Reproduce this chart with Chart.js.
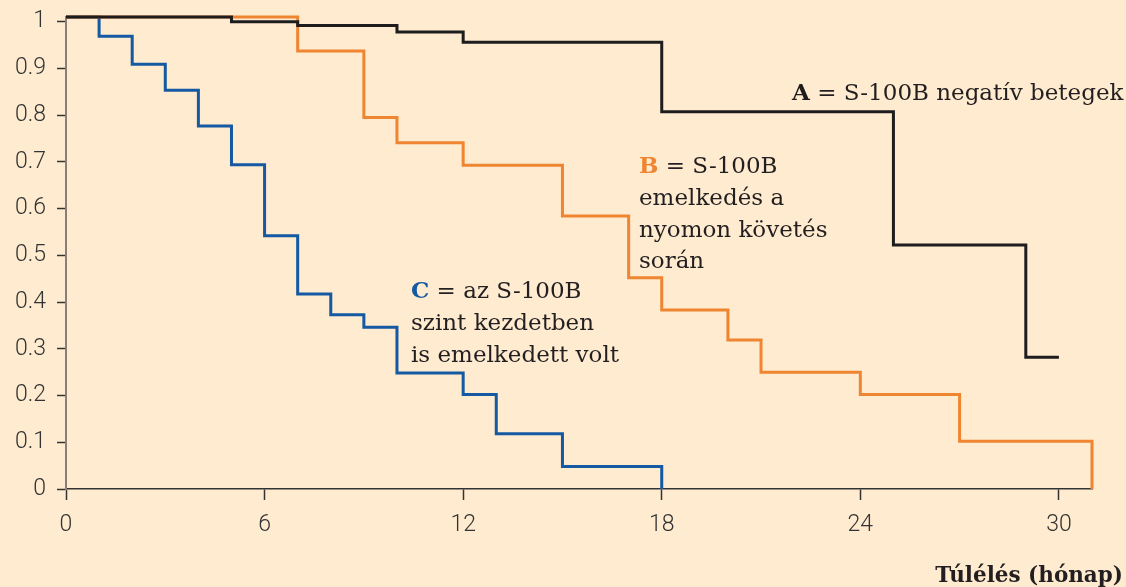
<!DOCTYPE html>
<html>
<head>
<meta charset="utf-8">
<script src="https://cdn.jsdelivr.net/npm/chart.js@4"></script>
<style>
  html, body { margin: 0; padding: 0; background: #FEEBD0; }
  #wrap { width: 1126px; height: 587px; }
</style>
</head>
<body>
<div id="wrap"><canvas id="survivalChart" width="1126" height="587"></canvas></div>
<script>
// Kaplan-Meier curves (months / survival)
const timesA = [0, 5, 7, 10, 12, 18, 25, 29, 30];
const survA = [1.01, 1.0, 0.992, 0.978, 0.956, 0.807, 0.522, 0.282, 0.282];

const timesB = [0, 7, 9, 10, 12, 15, 17, 18, 20, 21, 24, 27, 31];
const survB = [1.01, 0.937, 0.795, 0.741, 0.693, 0.584, 0.452, 0.383, 0.319, 0.25, 0.202, 0.102, 0];

const timesC = [0, 1, 2, 3, 4, 5, 6, 7, 8, 9, 10, 12, 13, 15, 18];
const survC = [1.01, 0.969, 0.909, 0.853, 0.777, 0.694, 0.542, 0.417, 0.373, 0.346, 0.248, 0.202, 0.118, 0.048, 0];

const xTicks = [0, 6, 12, 18, 24, 30];
const yTicks = [0, 0.1, 0.2, 0.3, 0.4, 0.5, 0.6, 0.7, 0.8, 0.9, 1];
const yTickLabels = ['0', '0.1', '0.2', '0.3', '0.4', '0.5', '0.6', '0.7', '0.8', '0.9', '1'];

const colorA = '#1e1c1c';
const colorB = '#EF8530';
const colorC = '#1459A2';
const textColor = '#231f20';

function toPoints(xs, ys) {
  return xs.map((x, i) => ({ x: x, y: ys[i] }));
}

// labels drawn on top of the chart
const labelsPlugin = {
  id: 'kmLabels',
  afterDraw(chart) {
    const ctx = chart.ctx;
    ctx.save();
    ctx.textBaseline = 'alphabetic';
    ctx.textAlign = 'left';

    function rich(x, y, parts) {
      parts.forEach(p => {
        ctx.font = (p.bold ? 'bold ' : '') + '23px "DejaVu Serif"';
        ctx.fillStyle = p.color || textColor;
        ctx.fillText(p.text, x, y);
        x += ctx.measureText(p.text).width;
      });
    }

    rich(792, 100, [{ text: 'A', bold: true, color: colorA }, { text: ' = S-100B negatív betegek' }]);

    rich(639, 173, [{ text: 'B', bold: true, color: colorB }, { text: ' = S-100B' }]);
    rich(639, 205, [{ text: 'emelkedés a' }]);
    rich(639, 237, [{ text: 'nyomon követés' }]);
    rich(639, 268, [{ text: 'során' }]);

    rich(411, 298, [{ text: 'C', bold: true, color: colorC }, { text: ' = az S-100B' }]);
    rich(411, 330, [{ text: 'szint kezdetben' }]);
    rich(411, 362, [{ text: 'is emelkedett volt' }]);

    // axis title
    ctx.font = 'bold 21.5px "DejaVu Serif"';
    ctx.fillStyle = textColor;
    ctx.textAlign = 'right';
    ctx.fillText('Túlélés (hónap)', 1123, 582);
    ctx.restore();
  }
};

const ctx = document.getElementById('survivalChart').getContext('2d');
const survivalChart = new Chart(ctx, {
  type: 'line',
  data: {
    datasets: [
      { label: 'A', data: toPoints(timesA, survA), borderColor: colorA },
      { label: 'B', data: toPoints(timesB, survB), borderColor: colorB },
      { label: 'C', data: toPoints(timesC, survC), borderColor: colorC }
    ]
  },
  options: {
    responsive: false,
    animation: false,
    layout: { padding: { top: 17, right: 34, left: 0, bottom: 0 } },
    elements: {
      line: { borderWidth: 3, stepped: 'before', fill: false, borderJoinStyle: 'miter', borderCapStyle: 'butt' },
      point: { radius: 0, hoverRadius: 0 }
    },
    datasets: { line: { clip: false } },
    scales: {
      x: {
        type: 'linear',
        min: 0,
        max: 31,
        afterBuildTicks: scale => { scale.ticks = xTicks.map(v => ({ value: v })); },
        afterFit: scale => { scale.height = 98; },
        grid: { drawOnChartArea: false, drawTicks: true, tickLength: 11, tickColor: '#333', tickWidth: 1.5 },
        border: { display: true, color: '#333', width: 1.5 },
        ticks: {
          color: '#333',
          padding: 11,
          maxRotation: 0,
          font: { family: 'Roboto', size: 23, weight: 300 }
        }
      },
      y: {
        min: 0,
        max: 1.01,
        afterBuildTicks: scale => { scale.ticks = yTicks.map(v => ({ value: v })); },
        afterFit: scale => {
          scale.width = 66;
          scale.paddingTop = 0;
          scale.paddingBottom = 0;
        },
        grid: { drawOnChartArea: false, drawTicks: true, tickLength: 9, tickColor: '#333', tickWidth: 1.5 },
        border: { display: true, color: '#8a7f76', width: 2 },
        ticks: {
          color: '#333',
          padding: 11,
          font: { family: 'Roboto', size: 23, weight: 300 },
          callback: (value, index) => yTickLabels[index]
        }
      }
    },
    plugins: {
      legend: { display: false },
      tooltip: { enabled: false }
    }
  },
  plugins: [labelsPlugin]
});
</script>
</body>
</html>
